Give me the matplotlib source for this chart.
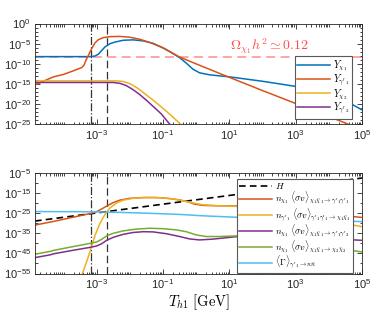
import numpy as np
import matplotlib
matplotlib.use("Agg")
import matplotlib.pyplot as plt
from matplotlib.ticker import FixedLocator, FuncFormatter, NullFormatter
from matplotlib.font_manager import FontProperties

plt.rcParams['font.family'] = ['Liberation Sans', 'DejaVu Sans']
plt.rcParams['mathtext.fontset'] = 'custom'
plt.rcParams['mathtext.rm'] = 'Liberation Sans'
plt.rcParams['mathtext.it'] = 'Liberation Sans:italic'
plt.rcParams['mathtext.bf'] = 'Liberation Sans:bold'

# ---------------- data (log10 values) ----------------
# top panel: yields
lT_chi1 = [-4.86, -3.2, -3.05, -2.95, -2.85, -2.75, -2.6, -2.45, -2.2, -1.9, -1.6, -1.3, -1.0, -0.75,
           -0.5, -0.3, -0.1, 0.1, 0.4, 1.0, 2.0, 3.1, 3.8, 4.4, 4.7, 5.0]
lY_chi1 = [-8.2, -8.2, -8.05, -7.6, -6.7, -5.8, -5.0, -4.6, -4.15, -4.05, -4.3, -4.9, -6.05, -7.2,
           -8.45, -9.8, -11.3, -12.2, -12.7, -13.2, -14.3, -15.7, -17.2, -18.9, -20.0, -21.4]

lT_gp1 = [-4.86, -4.5, -4.3, -4.0, -3.7, -3.45, -3.38, -3.32, -3.25, -3.15, -3.05, -2.95, -2.8, -2.6,
          -2.3, -2.0, -1.7, -1.4, -1.0, -0.5, 0.0, 0.93, 2.0, 3.0, 4.0, 5.0]
lY_gp1 = [-15.2, -13.9, -13.2, -12.6, -11.7, -10.9, -10.3, -9.0, -7.9, -6.2, -4.8, -4.0, -3.5, -3.25,
          -3.2, -3.4, -3.9, -4.7, -6.0, -8.3, -10.0, -13.1, -16.6, -19.8, -23.0, -26.3]

lT_chi2 = [-4.86, -2.4, -2.2, -2.0, -1.9, -1.7, -1.5, -1.25, -1.0, -0.75, -0.5, -0.3]
lY_chi2 = [-14.2, -14.2, -14.35, -14.9, -15.3, -16.4, -17.7, -19.3, -21.0, -22.8, -24.7, -26.3]

lT_gp2 = [-4.86, -2.5, -2.3, -2.1, -1.9, -1.7, -1.5, -1.3, -1.05, -0.85, -0.7]
lY_gp2 = [-14.6, -14.6, -14.8, -15.4, -16.4, -17.6, -19.0, -20.5, -22.4, -24.4, -25.8]

lY_relic = -8.2
lT_vlines = [-3.18, -2.68]

# bottom panel: rates
lT_H = [-4.86, -0.49, 5.0]
lR_H = [-28.9, -19.4, -7.5]

lT_ann1 = [-4.86, -4.3, -3.8, -3.4, -3.18, -3.0, -2.85, -2.68, -2.5, -2.3, -2.0, -1.6, -1.2, -0.8,
           -0.5, -0.25, -0.05, 0.2, 0.6, 1.2, 2.0, 3.0, 4.0, 5.0]
lR_ann1 = [-30.9, -29.1, -27.3, -25.9, -25.1, -24.2, -22.9, -21.3, -19.7, -18.5, -17.6, -17.2, -17.2, -17.7,
           -18.4, -19.3, -20.5, -21.1, -21.3, -21.4, -22.6, -24.1, -25.6, -27.1]

lT_inv = [-3.52, -3.45, -3.3, -3.18, -3.05, -2.9, -2.75, -2.6, -2.4, -2.2, -1.9, -1.5, -1.1, -0.7,
          -0.4, -0.1, 0.2, 0.6, 1.2, 2.0, 3.0, 4.0, 5.0]
lR_inv = [-60, -56, -49, -43, -36, -30, -25.6, -22.4, -19.9, -18.5, -17.6, -17.2, -17.3, -17.9,
          -18.8, -19.9, -20.8, -21.2, -21.6, -23.5, -26.0, -28.8, -31.7]

lT_gp2r = [-4.86, -4.4, -4.3, -3.8, -3.2, -3.0, -2.85, -2.7, -2.5, -2.2, -1.9, -1.6, -1.3, -0.9,
           -0.5, -0.2, 0.1, 0.5, 1.2, 2.0, 3.0, 4.0, 5.0]
lR_gp2r = [-47.1, -45.7, -45.2, -43.7, -42.0, -41.3, -40.2, -38.5, -37.0, -35.5, -34.6, -34.2, -34.3, -35.2,
           -36.6, -37.8, -38.3, -37.9, -36.7, -36.5, -36.9, -37.6, -38.5]

lT_chi2r = [-4.86, -4.4, -4.3, -3.8, -3.2, -3.0, -2.85, -2.7, -2.5, -2.2, -1.8, -1.4, -1.0, -0.6,
            -0.3, 0.0, 0.3, 0.7, 1.2, 2.0, 3.0, 4.0, 5.0]
lR_chi2r = [-45.4, -44.0, -43.5, -41.9, -40.0, -39.3, -38.0, -36.3, -35.0, -33.8, -32.9, -32.5, -32.7, -33.3,
            -34.2, -35.8, -36.6, -36.6, -36.3, -37.5, -39.5, -41.8, -44.3]

lT_dec = [-4.86, -3.5, -2.5, -1.5, -0.5, 0.2, 1.2, 2.5, 4.0, 5.0]
lR_dec = [-24.2, -24.25, -24.5, -25.0, -25.6, -26.3, -27.0, -27.9, -28.6, -29.2]

xticks_exp = [-3, -1, 1, 3, 5]
yticks_top_exp = [0, -5, -10, -15, -20, -25]
yticks_bot_exp = [-5, -15, -25, -35, -45, -55]

# ---------------- style ----------------
C_BLUE = (0, 0.447, 0.741)
C_ORANGE = (0.85, 0.325, 0.098)
C_YELLOW = (0.929, 0.694, 0.125)
C_PURPLE = (0.494, 0.184, 0.556)
C_GREEN = (0.466, 0.674, 0.188)
C_CYAN = (0.301, 0.745, 0.933)
C_AX = (0.15, 0.15, 0.15)
LW = 1.1

def p(a):
    return 10.0 ** np.asarray(a, dtype=float)

fig = plt.figure(figsize=(3.71, 3.15), dpi=100)
ax1 = fig.add_axes([35 / 371, 1 - 124.5 / 315, 327 / 371, 101 / 315])
ax2 = fig.add_axes([35 / 371, 1 - 273.5 / 315, 327 / 371, 100.5 / 315])

fmt = FuncFormatter(lambda v, pos: r'$\mathdefault{10^{%d}}$' % int(round(np.log10(v))))

def style(ax, ymin, ymax, yexp, yminor_step):
    ax.set_xscale('log')
    ax.set_yscale('log')
    ax.set_xlim(10 ** -4.86, 1e5)
    ax.set_ylim(10.0 ** ymin, 10.0 ** ymax)
    ax.xaxis.set_major_locator(FixedLocator(p(xticks_exp)))
    xm = [k * 10.0 ** e for e in range(-5, 6) for k in range(1, 10)]
    xm = [v for v in xm if not any(np.isclose(v, p(xticks_exp)))]
    ax.xaxis.set_minor_locator(FixedLocator(xm))
    ax.xaxis.set_major_formatter(fmt)
    ax.xaxis.set_minor_formatter(NullFormatter())
    ax.yaxis.set_major_locator(FixedLocator(p(yexp)))
    ym = [10.0 ** e for e in range(ymin, ymax + 1, yminor_step) if e not in yexp]
    ax.yaxis.set_minor_locator(FixedLocator(ym))
    ax.yaxis.set_major_formatter(fmt)
    ax.yaxis.set_minor_formatter(NullFormatter())
    ax.tick_params(which='both', direction='in', top=True, right=True, colors=C_AX,
                   labelsize=8, width=0.6)
    ax.tick_params(which='major', length=3.5, pad=3)
    ax.tick_params(which='minor', length=1.8)
    for s in ax.spines.values():
        s.set_color(C_AX)
        s.set_linewidth(0.6)
    ax.axvline(10 ** lT_vlines[0], color='0.2', lw=0.9, ls='-.', zorder=1)
    ax.axvline(10 ** lT_vlines[1], color='0.2', lw=0.9, ls=(0, (6, 3)), zorder=1)

style(ax1, -25, 0, yticks_top_exp, 1)
style(ax2, -55, -5, yticks_bot_exp, 5)

# top panel
ax1.axhline(10 ** lY_relic, color=(1, 0.62, 0.62), lw=1.3, ls=(0, (5, 3)), zorder=1.5)
ax1.plot(p(lT_chi1), p(lY_chi1), color=C_BLUE, lw=LW, label=r'$Y_{\chi_1}$')
ax1.plot(p(lT_gp1), p(lY_gp1), color=C_ORANGE, lw=LW, label=r"$Y_{\gamma'_1}$")
ax1.plot(p(lT_chi2), p(lY_chi2), color=C_YELLOW, lw=LW, label=r'$Y_{\chi_2}$')
ax1.plot(p(lT_gp2), p(lY_gp2), color=C_PURPLE, lw=LW, label=r"$Y_{\gamma'_2}$")
ax1.text(10 ** 2.2, 10 ** -5.6, r'$\Omega_{\chi_1} h^2 \simeq 0.12$', color=(1, 0.3, 0.3),
         ha='center', va='center', fontsize=10, math_fontfamily='cm')
leg1 = ax1.legend(loc='lower right', bbox_to_anchor=(0.97, 0.055), borderaxespad=0,
                  prop=FontProperties(size=7.2, math_fontfamily='cm'), handlelength=3.3,
                  handletextpad=0.3, labelspacing=-0.05, borderpad=0.25, fancybox=False,
                  framealpha=1, edgecolor='0.35')
leg1.get_frame().set_linewidth(0.8)

# bottom panel
ax2.plot(p(lT_H), p(lR_H), color='k', lw=1.2, ls=(0, (4, 2.5)), label=r'$H$')
ax2.plot(p(lT_ann1), p(lR_ann1), color=C_ORANGE, lw=LW,
         label=r"$n_{\chi_1}\ \langle\sigma v\rangle_{\chi_1\bar{\chi}_1\to\gamma'_1\gamma'_1}$")
ax2.plot(p(lT_inv), p(lR_inv), color=C_YELLOW, lw=LW,
         label=r"$n_{\gamma'_1}\ \langle\sigma v\rangle_{\gamma'_1\gamma'_1\to\chi_1\bar{\chi}_1}$")
ax2.plot(p(lT_gp2r), p(lR_gp2r), color=C_PURPLE, lw=LW,
         label=r"$n_{\chi_1}\ \langle\sigma v\rangle_{\chi_1\bar{\chi}_1\to\gamma'_1\gamma'_2}$")
ax2.plot(p(lT_chi2r), p(lR_chi2r), color=C_GREEN, lw=LW,
         label=r"$n_{\chi_1}\ \langle\sigma v\rangle_{\chi_1\bar{\chi}_1\to\chi_2\bar{\chi}_2}$")
ax2.plot(p(lT_dec), p(lR_dec), color=C_CYAN, lw=LW,
         label=r"$\langle\Gamma\rangle_{\gamma'_1\to n\bar{n}}$")
leg2 = ax2.legend(loc='upper right', bbox_to_anchor=(0.972, 0.94), borderaxespad=0,
                  prop=FontProperties(size=6.6, math_fontfamily='cm'), handlelength=3.6,
                  handletextpad=0.3, labelspacing=-0.1, borderpad=0.25, fancybox=False,
                  framealpha=1, edgecolor='0.35')
leg2.get_frame().set_linewidth(0.8)

ax2.set_xlabel(r'$T_{h1}\ [\mathrm{GeV}]$', fontsize=10.5, math_fontfamily='cm', labelpad=1,
               color='k')

fig.savefig('out.png', dpi=100)
